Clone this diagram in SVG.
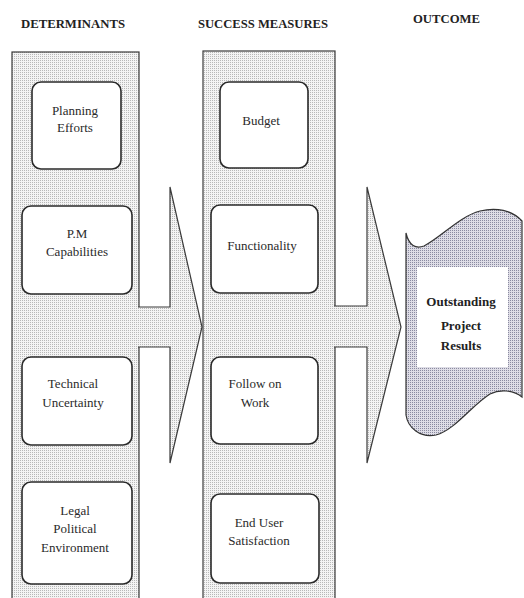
<svg xmlns="http://www.w3.org/2000/svg" width="524" height="598" viewBox="0 0 524 598">
<defs>
<pattern id="dots" x="0" y="0" width="2" height="2" patternUnits="userSpaceOnUse">
<rect width="2" height="2" fill="#f4f4f4"/>
<rect width="1" height="1" fill="#b8b8b8"/>
</pattern>
<pattern id="dotsBlue" x="0" y="0" width="2" height="2" patternUnits="userSpaceOnUse">
<rect width="2" height="2" fill="#dedde6"/>
<rect width="1" height="1" fill="#8a8aa0"/>
</pattern>
<style>
.col{fill:url(#dots);stroke:#3a3a3a;stroke-width:1.2}
.arrow{fill:url(#dots);stroke:#3a3a3a;stroke-width:1.2;stroke-linejoin:miter}
.box{fill:#fff;stroke:#2a2a2a;stroke-width:1.6}
.hdr{font-family:"Liberation Serif","Times New Roman",serif;font-weight:bold;font-size:12px;fill:#222}
.lbl{font-family:"Liberation Serif","Times New Roman",serif;font-size:13px;fill:#2a2a2a;text-anchor:middle}
.blbl{font-family:"Liberation Serif","Times New Roman",serif;font-size:13px;font-weight:bold;fill:#222;text-anchor:middle}
</style>
</defs>
<rect width="524" height="598" fill="#fff"/>

<g id="headers">
<text class="hdr" x="21" y="28" textLength="104" lengthAdjust="spacingAndGlyphs">DETERMINANTS</text>
<text class="hdr" x="198" y="28" textLength="130" lengthAdjust="spacingAndGlyphs">SUCCESS MEASURES</text>
<text class="hdr" x="413" y="23" textLength="67" lengthAdjust="spacingAndGlyphs">OUTCOME</text>
</g>

<g id="col-determinants">
<rect class="col" x="12" y="52" width="127" height="560"/>
</g>
<g id="col-success">
<rect class="col" x="203" y="51" width="132" height="560"/>
</g>

<g id="connectors">
<path class="arrow" d="M138,307 L170,307 L170,187 L202,327 L170,463 L170,347 L138,347"/>
<path class="arrow" d="M334,306 L367,306 L367,187 L401,327 L367,463 L367,347 L334,347"/>
</g>

<g id="planning-efforts">
<rect class="box" x="32" y="82" width="89" height="87" rx="9"/>
<text class="lbl" x="75" y="115">Planning</text>
<text class="lbl" x="75" y="132">Efforts</text>
</g>
<g id="pm-capabilities">
<rect class="box" x="22" y="206" width="110" height="88" rx="9"/>
<text class="lbl" x="77" y="238">P.M</text>
<text class="lbl" x="77" y="256">Capabilities</text>
</g>
<g id="technical-uncertainty">
<rect class="box" x="22" y="357" width="110" height="88" rx="9"/>
<text class="lbl" x="73" y="388">Technical</text>
<text class="lbl" x="73" y="407">Uncertainty</text>
</g>
<g id="legal-political-environment">
<rect class="box" x="22" y="482" width="110" height="102" rx="9"/>
<text class="lbl" x="75" y="515">Legal</text>
<text class="lbl" x="75" y="533">Political</text>
<text class="lbl" x="75" y="552">Environment</text>
</g>

<g id="budget">
<rect class="box" x="220" y="82" width="88" height="86" rx="9"/>
<text class="lbl" x="261" y="125">Budget</text>
</g>
<g id="functionality">
<rect class="box" x="211" y="205" width="107" height="88" rx="9"/>
<text class="lbl" x="262" y="250">Functionality</text>
</g>
<g id="follow-on-work">
<rect class="box" x="211" y="357" width="107" height="87" rx="9"/>
<text class="lbl" x="255" y="388">Follow on</text>
<text class="lbl" x="255" y="407">Work</text>
</g>
<g id="end-user-satisfaction">
<rect class="box" x="211" y="494" width="108" height="89" rx="9"/>
<text class="lbl" x="259" y="527">End User</text>
<text class="lbl" x="259" y="545">Satisfaction</text>
</g>

<g id="outcome">
<path d="M406,233 C409,246 416,249 424,246 C440,238 460,216 480,211 C496,207 512,210 522,221 L522,397 C513,390 500,389 490,394 C472,405 455,430 436,435 C420,438 408,428 406,415 Z" fill="url(#dotsBlue)" stroke="#333" stroke-width="1.2"/>
<rect x="417" y="267" width="91" height="100" fill="#fff"/>
<text class="blbl" x="461" y="306">Outstanding</text>
<text class="blbl" x="461" y="330">Project</text>
<text class="blbl" x="461" y="350">Results</text>
</g>
</svg>
